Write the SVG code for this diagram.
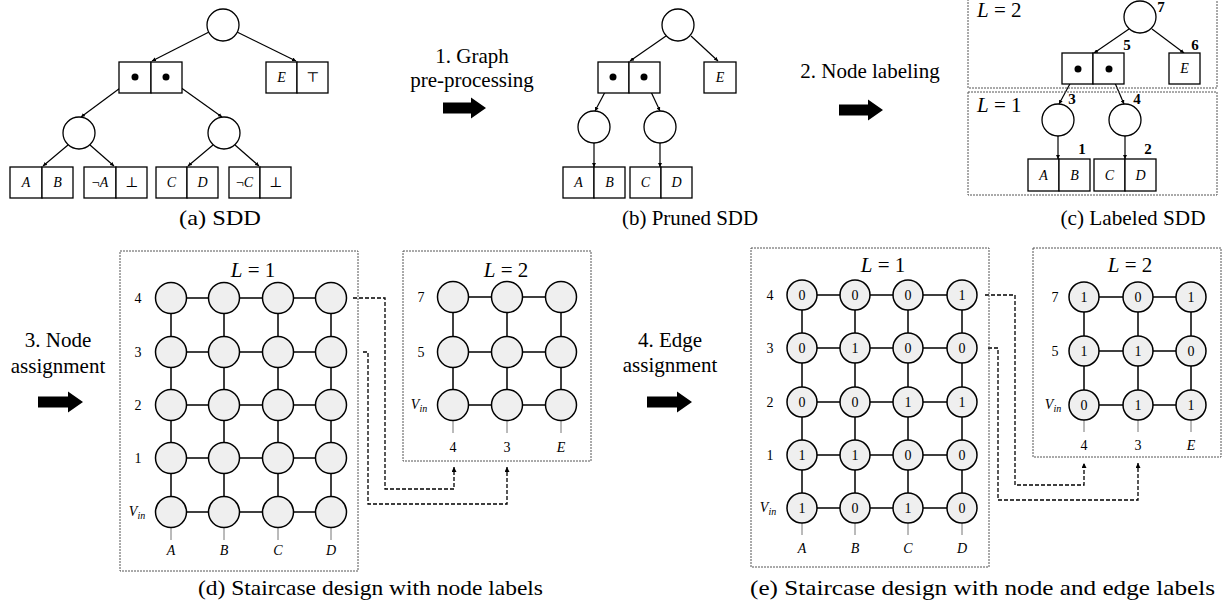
<svg xmlns="http://www.w3.org/2000/svg" width="1225" height="605" viewBox="0 0 1225 605">
<style>
.c{fill:#fff;stroke:#000;stroke-width:1.3}
.g{fill:#efefef;stroke:#000;stroke-width:1.5}
.bx{fill:#fff;stroke:#000;stroke-width:1.3}
.e{stroke:#000;stroke-width:1.2;fill:none}
.gl{stroke:#000;stroke-width:1.5;fill:none}
.tk{stroke:#777;stroke-width:1}
.dbox{fill:none;stroke:#555;stroke-width:1;stroke-dasharray:2 1}
.dc{fill:none;stroke:#000;stroke-width:1.3;stroke-dasharray:4 2}
.m{font-family:"Liberation Serif","DejaVu Serif",serif;font-size:14px;text-anchor:middle;fill:#000}
.i{font-style:italic}
.step{font-family:"Liberation Serif",serif;font-size:21px;text-anchor:middle}
.cap{font-family:"Liberation Serif",serif;font-size:22px}
.lb{font-family:"Liberation Serif",serif;font-weight:bold;font-size:15px;text-anchor:middle}
.L{font-family:"Liberation Serif",serif;font-size:21px}
.dot{fill:#000}
.ba{fill:#000}
</style>
<defs>
<marker id="ah" viewBox="0 0 10 10" refX="10" refY="5" markerWidth="4" markerHeight="4" orient="auto" markerUnits="userSpaceOnUse"><path d="M0,0L10,5L0,10z" fill="#000"/></marker>
<marker id="ah2" viewBox="0 0 10 10" refX="10" refY="5" markerWidth="5" markerHeight="5" orient="auto" markerUnits="userSpaceOnUse"><path d="M0,0L10,5L0,10z" fill="#000"/></marker>
</defs>

<!-- connectors -->
<g id="connectors">
  <!-- (a) -->
  <line class="e" x1="209" y1="32" x2="152" y2="61" marker-end="url(#ah)"/>
  <line class="e" x1="237" y1="32" x2="296" y2="61" marker-end="url(#ah)"/>
  <line class="e" x1="135" y1="77" x2="81" y2="117" marker-end="url(#ah)"/>
  <line class="e" x1="166" y1="77" x2="222" y2="117" marker-end="url(#ah)"/>
  <line class="e" x1="68" y1="145" x2="43" y2="166" marker-end="url(#ah)"/>
  <line class="e" x1="90" y1="145" x2="114" y2="166" marker-end="url(#ah)"/>
  <line class="e" x1="213" y1="145" x2="188" y2="166" marker-end="url(#ah)"/>
  <line class="e" x1="235" y1="145" x2="259" y2="166" marker-end="url(#ah)"/>
  <!-- (b) -->
  <line class="e" x1="666" y1="36" x2="630" y2="61" marker-end="url(#ah)"/>
  <line class="e" x1="691" y1="36" x2="718" y2="61" marker-end="url(#ah)"/>
  <line class="e" x1="613" y1="77" x2="595" y2="111" marker-end="url(#ah)"/>
  <line class="e" x1="644" y1="77" x2="660" y2="111" marker-end="url(#ah)"/>
  <line class="e" x1="594" y1="143" x2="594" y2="167" marker-end="url(#ah)"/>
  <line class="e" x1="660" y1="143" x2="660" y2="167" marker-end="url(#ah)"/>
  <!-- (c) -->
  <line class="e" x1="1129" y1="29" x2="1094" y2="53" marker-end="url(#ah)"/>
  <line class="e" x1="1152" y1="29" x2="1184" y2="53" marker-end="url(#ah)"/>
  <line class="e" x1="1078" y1="69" x2="1059" y2="104" marker-end="url(#ah)"/>
  <line class="e" x1="1109" y1="69" x2="1124" y2="104" marker-end="url(#ah)"/>
  <line class="e" x1="1058" y1="136" x2="1058" y2="159" marker-end="url(#ah)"/>
  <line class="e" x1="1125" y1="136" x2="1125" y2="159" marker-end="url(#ah)"/>
  <!-- (d) grid lines -->
  <path class="gl" d="M171,298H331M171,352H331M171,405H331M171,458H331M171,512H331M171,298V512M224,298V512M278,298V512M331,298V512"/>
  <path class="tk" d="M171,528V540M224,528V540M278,528V540M331,528V540"/>
  <path class="gl" d="M453,297H561M453,352H561M453,405H561M453,297V405M507,297V405M561,297V405"/>
  <path class="tk" d="M453,421V433M507,421V433M561,421V433"/>
  <path class="dc" d="M353,298H385V489H454V467" marker-end="url(#ah2)"/>
  <path class="dc" d="M363,352H368V504H507V467" marker-end="url(#ah2)"/>
  <!-- (e) grid lines -->
  <path class="gl" d="M802,295H962M802,348H962M802,402H962M802,455H962M802,508H962M802,295V508M855,295V508M908,295V508M962,295V508"/>
  <path class="tk" d="M802,523V535M855,523V535M908,523V535M962,523V535"/>
  <path class="gl" d="M1084,297H1191M1084,351H1191M1084,405H1191M1084,297V405M1138,297V405M1191,297V405"/>
  <path class="tk" d="M1084,420V432M1138,420V432M1191,420V432"/>
  <path class="dc" d="M985,295H1015V485H1084V463" marker-end="url(#ah2)"/>
  <path class="dc" d="M988,348H998V500H1138V463" marker-end="url(#ah2)"/>
</g>

<!-- (a) SDD -->
<g id="a-root"><circle class="c" cx="223" cy="25" r="16"/></g>
<g id="a-pair"><rect class="bx" x="119" y="62" width="32" height="31"/><rect class="bx" x="151" y="62" width="31" height="31"/><circle class="dot" cx="135" cy="77" r="3.5"/><circle class="dot" cx="166" cy="77" r="3.5"/></g>
<g id="a-Etop"><rect class="bx" x="266" y="62" width="31" height="31"/><rect class="bx" x="297" y="62" width="31" height="31"/><text class="m i" x="281.5" y="82">E</text><text class="m" x="312.5" y="82">⊤</text></g>
<g id="a-or1"><circle class="c" cx="79" cy="133" r="16"/></g>
<g id="a-or2"><circle class="c" cx="224" cy="133" r="16"/></g>
<g id="a-AB"><rect class="bx" x="10" y="167" width="32" height="31"/><rect class="bx" x="42" y="167" width="31" height="31"/><text class="m i" x="26" y="187">A</text><text class="m i" x="57.5" y="187">B</text></g>
<g id="a-nAbot"><rect class="bx" x="84" y="167" width="32" height="31"/><rect class="bx" x="116" y="167" width="31" height="31"/><text class="m" x="100" y="187">¬<tspan class="i">A</tspan></text><text class="m" x="131.5" y="187">⊥</text></g>
<g id="a-CD"><rect class="bx" x="156" y="167" width="31" height="31"/><rect class="bx" x="187" y="167" width="31" height="31"/><text class="m i" x="171.5" y="187">C</text><text class="m i" x="202.5" y="187">D</text></g>
<g id="a-nCbot"><rect class="bx" x="229" y="167" width="31" height="31"/><rect class="bx" x="260" y="167" width="31" height="31"/><text class="m" x="244.5" y="187">¬<tspan class="i">C</tspan></text><text class="m" x="275.5" y="187">⊥</text></g>
<text class="cap" x="220" y="225" text-anchor="middle" textLength="82" lengthAdjust="spacingAndGlyphs">(a) SDD</text>

<!-- step 1 -->
<g id="step1">
<text class="step" x="472" y="63">1. Graph</text>
<text class="step" x="472" y="87">pre-processing</text>
<polygon class="ba" points="443,102.5 471,102.5 471,97.5 486,108 471,118.5 471,113.5 443,113.5"/>
</g>

<!-- (b) Pruned SDD -->
<g id="b-root"><circle class="c" cx="678" cy="25" r="16"/></g>
<g id="b-pair"><rect class="bx" x="598" y="62" width="31" height="31"/><rect class="bx" x="629" y="62" width="31" height="31"/><circle class="dot" cx="613" cy="77" r="3.5"/><circle class="dot" cx="644" cy="77" r="3.5"/></g>
<g id="b-E"><rect class="bx" x="704" y="62" width="32" height="31"/><text class="m i" x="720" y="82">E</text></g>
<g id="b-or1"><circle class="c" cx="594" cy="127" r="16"/></g>
<g id="b-or2"><circle class="c" cx="660" cy="127" r="16"/></g>
<g id="b-AB"><rect class="bx" x="563" y="167" width="31" height="31"/><rect class="bx" x="594" y="167" width="31" height="31"/><text class="m i" x="578.5" y="187">A</text><text class="m i" x="609.5" y="187">B</text></g>
<g id="b-CD"><rect class="bx" x="630" y="167" width="31" height="31"/><rect class="bx" x="661" y="167" width="31" height="31"/><text class="m i" x="645.5" y="187">C</text><text class="m i" x="676.5" y="187">D</text></g>
<text class="cap" x="690" y="225" text-anchor="middle" textLength="136" lengthAdjust="spacingAndGlyphs">(b) Pruned SDD</text>

<!-- step 2 -->
<g id="step2">
<text class="step" x="870" y="78">2. Node  labeling</text>
<polygon class="ba" points="839,104.5 868,104.5 868,99.5 883,110 868,120.5 868,115.5 839,115.5"/>
</g>

<!-- (c) Labeled SDD -->
<g id="c-L2"><rect class="dbox" x="968" y="-2" width="249" height="90"/><text class="L" x="977" y="17"><tspan class="i">L</tspan> = 2</text></g>
<g id="c-L1"><rect class="dbox" x="968" y="92" width="249" height="103"/><text class="L" x="977" y="112"><tspan class="i">L</tspan> = 1</text></g>
<g id="c-root"><circle class="c" cx="1140" cy="17" r="16"/><text class="lb" x="1161" y="12">7</text></g>
<g id="c-pair"><rect class="bx" x="1062" y="53" width="31" height="31"/><rect class="bx" x="1093" y="53" width="31" height="31"/><circle class="dot" cx="1078" cy="69" r="3.5"/><circle class="dot" cx="1109" cy="69" r="3.5"/><text class="lb" x="1127" y="50">5</text></g>
<g id="c-E"><rect class="bx" x="1169" y="53" width="31" height="31"/><text class="m i" x="1184.5" y="73">E</text><text class="lb" x="1195" y="50">6</text></g>
<g id="c-or1"><circle class="c" cx="1058" cy="120" r="16"/><text class="lb" x="1072" y="104">3</text></g>
<g id="c-or2"><circle class="c" cx="1125" cy="120" r="16"/><text class="lb" x="1137" y="104">4</text></g>
<g id="c-AB"><rect class="bx" x="1028" y="159" width="31" height="32"/><rect class="bx" x="1059" y="159" width="31" height="32"/><text class="m i" x="1043.5" y="180">A</text><text class="m i" x="1074.5" y="180">B</text><text class="lb" x="1082" y="154">1</text></g>
<g id="c-CD"><rect class="bx" x="1094" y="159" width="31" height="32"/><rect class="bx" x="1125" y="159" width="31" height="32"/><text class="m i" x="1109.5" y="180">C</text><text class="m i" x="1140.5" y="180">D</text><text class="lb" x="1148" y="154">2</text></g>
<text class="cap" x="1133" y="225" text-anchor="middle" textLength="145" lengthAdjust="spacingAndGlyphs">(c) Labeled SDD</text>

<!-- step 3 -->
<g id="step3">
<text class="step" x="58" y="347">3. Node</text>
<text class="step" x="58" y="373">assignment</text>
<polygon class="ba" points="38,396.5 68,396.5 68,391.5 83,402 68,412.5 68,407.5 38,407.5"/>
</g>

<!-- (d) L=1 -->
<g id="d-L1">
<rect class="dbox" x="120" y="251" width="238" height="320"/>
<text class="L" x="253" y="277" text-anchor="middle"><tspan class="i">L</tspan> = 1</text>
<text class="m" x="138" y="303">4</text><text class="m" x="138" y="357">3</text><text class="m" x="138" y="410">2</text><text class="m" x="138" y="463">1</text>
<text class="m" x="137" y="516"><tspan class="i">V</tspan><tspan class="i" font-size="10" dy="3">in</tspan></text>
<text class="m i" x="171" y="555">A</text><text class="m i" x="224" y="555">B</text><text class="m i" x="278" y="555">C</text><text class="m i" x="331" y="555">D</text>
</g>
<g id="d1-r4"><circle class="g" cx="171" cy="298" r="15.5"/><circle class="g" cx="224" cy="298" r="15.5"/><circle class="g" cx="278" cy="298" r="15.5"/><circle class="g" cx="331" cy="298" r="15.5"/></g>
<g id="d1-r3"><circle class="g" cx="171" cy="352" r="15.5"/><circle class="g" cx="224" cy="352" r="15.5"/><circle class="g" cx="278" cy="352" r="15.5"/><circle class="g" cx="331" cy="352" r="15.5"/></g>
<g id="d1-r2"><circle class="g" cx="171" cy="405" r="15.5"/><circle class="g" cx="224" cy="405" r="15.5"/><circle class="g" cx="278" cy="405" r="15.5"/><circle class="g" cx="331" cy="405" r="15.5"/></g>
<g id="d1-r1"><circle class="g" cx="171" cy="458" r="15.5"/><circle class="g" cx="224" cy="458" r="15.5"/><circle class="g" cx="278" cy="458" r="15.5"/><circle class="g" cx="331" cy="458" r="15.5"/></g>
<g id="d1-rv"><circle class="g" cx="171" cy="512" r="15.5"/><circle class="g" cx="224" cy="512" r="15.5"/><circle class="g" cx="278" cy="512" r="15.5"/><circle class="g" cx="331" cy="512" r="15.5"/></g>

<!-- (d) L=2 -->
<g id="d-L2">
<rect class="dbox" x="403" y="251" width="188" height="210"/>
<text class="L" x="506" y="277" text-anchor="middle"><tspan class="i">L</tspan> = 2</text>
<text class="m" x="421" y="302">7</text><text class="m" x="421" y="357">5</text>
<text class="m" x="419" y="409"><tspan class="i">V</tspan><tspan class="i" font-size="10" dy="3">in</tspan></text>
<text class="m" x="453" y="452">4</text><text class="m" x="507" y="452">3</text><text class="m i" x="561" y="452">E</text>
</g>
<g id="d2-r7"><circle class="g" cx="453" cy="297" r="15.5"/><circle class="g" cx="507" cy="297" r="15.5"/><circle class="g" cx="561" cy="297" r="15.5"/></g>
<g id="d2-r5"><circle class="g" cx="453" cy="352" r="15.5"/><circle class="g" cx="507" cy="352" r="15.5"/><circle class="g" cx="561" cy="352" r="15.5"/></g>
<g id="d2-rv"><circle class="g" cx="453" cy="405" r="15.5"/><circle class="g" cx="507" cy="405" r="15.5"/><circle class="g" cx="561" cy="405" r="15.5"/></g>
<text class="cap" x="198" y="595" textLength="345" lengthAdjust="spacingAndGlyphs">(d) Staircase design with node labels</text>

<!-- step 4 -->
<g id="step4">
<text class="step" x="670" y="347">4. Edge</text>
<text class="step" x="670" y="372">assignment</text>
<polygon class="ba" points="647,396.5 677,396.5 677,391.5 692,402 677,412.5 677,407.5 647,407.5"/>
</g>

<!-- (e) L=1 -->
<g id="e-L1">
<rect class="dbox" x="751" y="248" width="238" height="319"/>
<text class="L" x="883" y="272" text-anchor="middle"><tspan class="i">L</tspan> = 1</text>
<text class="m" x="770" y="300">4</text><text class="m" x="770" y="353">3</text><text class="m" x="770" y="407">2</text><text class="m" x="770" y="460">1</text>
<text class="m" x="768" y="512"><tspan class="i">V</tspan><tspan class="i" font-size="10" dy="3">in</tspan></text>
<text class="m i" x="802" y="553">A</text><text class="m i" x="855" y="553">B</text><text class="m i" x="908" y="553">C</text><text class="m i" x="962" y="553">D</text>
</g>
<g id="e1-r4"><circle class="g" cx="802" cy="295" r="15"/><circle class="g" cx="855" cy="295" r="15"/><circle class="g" cx="908" cy="295" r="15"/><circle class="g" cx="962" cy="295" r="15"/>
<text class="m" x="802" y="300">0</text><text class="m" x="855" y="300">0</text><text class="m" x="908" y="300">0</text><text class="m" x="962" y="300">1</text></g>
<g id="e1-r3"><circle class="g" cx="802" cy="348" r="15"/><circle class="g" cx="855" cy="348" r="15"/><circle class="g" cx="908" cy="348" r="15"/><circle class="g" cx="962" cy="348" r="15"/>
<text class="m" x="802" y="353">0</text><text class="m" x="855" y="353">1</text><text class="m" x="908" y="353">0</text><text class="m" x="962" y="353">0</text></g>
<g id="e1-r2"><circle class="g" cx="802" cy="402" r="15"/><circle class="g" cx="855" cy="402" r="15"/><circle class="g" cx="908" cy="402" r="15"/><circle class="g" cx="962" cy="402" r="15"/>
<text class="m" x="802" y="407">0</text><text class="m" x="855" y="407">0</text><text class="m" x="908" y="407">1</text><text class="m" x="962" y="407">1</text></g>
<g id="e1-r1"><circle class="g" cx="802" cy="455" r="15"/><circle class="g" cx="855" cy="455" r="15"/><circle class="g" cx="908" cy="455" r="15"/><circle class="g" cx="962" cy="455" r="15"/>
<text class="m" x="802" y="460">1</text><text class="m" x="855" y="460">1</text><text class="m" x="908" y="460">0</text><text class="m" x="962" y="460">0</text></g>
<g id="e1-rv"><circle class="g" cx="802" cy="508" r="15"/><circle class="g" cx="855" cy="508" r="15"/><circle class="g" cx="908" cy="508" r="15"/><circle class="g" cx="962" cy="508" r="15"/>
<text class="m" x="802" y="513">1</text><text class="m" x="855" y="513">0</text><text class="m" x="908" y="513">1</text><text class="m" x="962" y="513">0</text></g>

<!-- (e) L=2 -->
<g id="e-L2">
<rect class="dbox" x="1033" y="248" width="188" height="209"/>
<text class="L" x="1130" y="272" text-anchor="middle"><tspan class="i">L</tspan> = 2</text>
<text class="m" x="1055" y="302">7</text><text class="m" x="1055" y="356">5</text>
<text class="m" x="1053" y="409"><tspan class="i">V</tspan><tspan class="i" font-size="10" dy="3">in</tspan></text>
<text class="m" x="1084" y="450">4</text><text class="m" x="1138" y="450">3</text><text class="m i" x="1191" y="450">E</text>
</g>
<g id="e2-r7"><circle class="g" cx="1084" cy="297" r="15"/><circle class="g" cx="1138" cy="297" r="15"/><circle class="g" cx="1191" cy="297" r="15"/>
<text class="m" x="1084" y="302">1</text><text class="m" x="1138" y="302">0</text><text class="m" x="1191" y="302">1</text></g>
<g id="e2-r5"><circle class="g" cx="1084" cy="351" r="15"/><circle class="g" cx="1138" cy="351" r="15"/><circle class="g" cx="1191" cy="351" r="15"/>
<text class="m" x="1084" y="356">1</text><text class="m" x="1138" y="356">1</text><text class="m" x="1191" y="356">0</text></g>
<g id="e2-rv"><circle class="g" cx="1084" cy="405" r="15"/><circle class="g" cx="1138" cy="405" r="15"/><circle class="g" cx="1191" cy="405" r="15"/>
<text class="m" x="1084" y="410">0</text><text class="m" x="1138" y="410">1</text><text class="m" x="1191" y="410">1</text></g>
<text class="cap" x="750" y="595" textLength="465" lengthAdjust="spacingAndGlyphs">(e) Staircase design with node and edge labels</text>
</svg>
